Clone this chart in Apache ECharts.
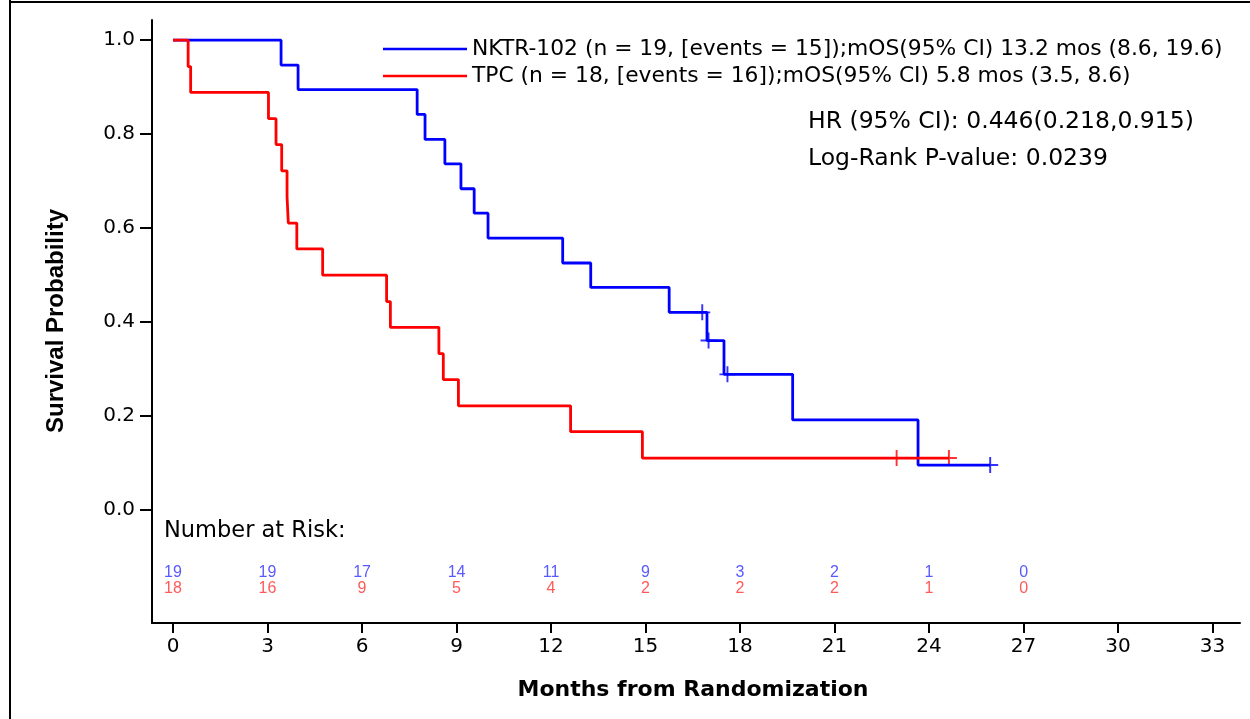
<!DOCTYPE html>
<html><head><meta charset="utf-8">
<script src="https://cdn.jsdelivr.net/npm/echarts@6/dist/echarts.min.js"></script>
<style>html,body{margin:0;padding:0;background:#fff}#c{width:1250px;height:719px}</style>
</head><body><div id="c"></div>
<script>
// ---- data ----
const blueName = 'NKTR-102 (n = 19, [events = 15]);mOS(95% CI) 13.2 mos (8.6, 19.6)';
const redName = 'TPC (n = 18, [events = 16]);mOS(95% CI) 5.8 mos (3.5, 8.6)';
const blueTimes = [0, 3.43, 3.97, 7.75, 8.0, 8.63, 9.14, 9.56, 10.0, 12.37, 13.26, 15.75, 16.95, 17.49, 19.67, 23.65, 25.94];
const blueSurv  = [1.0, 0.947, 0.895, 0.842, 0.789, 0.737, 0.684, 0.632, 0.579, 0.526, 0.474, 0.421, 0.361, 0.289, 0.192, 0.096, 0.096];
const blueCensorTimes = [16.8, 17.0, 17.6, 25.94];
const blueCensorSurv  = [0.421, 0.361, 0.289, 0.096];
const redTimes = [0, 0.48, 0.56, 3.03, 3.27, 3.45, 3.62, 3.66, 3.93, 4.75, 6.78, 6.90, 8.44, 8.58, 9.06, 12.62, 14.90, 24.63];
const redSurv  = [1.0, 0.944, 0.889, 0.833, 0.778, 0.722, 0.667, 0.611, 0.556, 0.500, 0.444, 0.389, 0.333, 0.278, 0.222, 0.167, 0.111, 0.111];
const redCensorTimes = [22.97, 24.63];
const redCensorSurv  = [0.111, 0.111];
const riskTimes = [0, 3, 6, 9, 12, 15, 18, 21, 24, 27];
const riskBlue  = [19, 19, 17, 14, 11, 9, 3, 2, 1, 0];
const riskRed   = [18, 16, 9, 5, 4, 2, 2, 2, 1, 0];
const xTicks = [0, 3, 6, 9, 12, 15, 18, 21, 24, 27, 30, 33];
const yTicks = [0, 0.2, 0.4, 0.6, 0.8, 1.0];
const statLines = ['HR (95% CI): 0.446(0.218,0.915)', 'Log-Rank P-value: 0.0239'];
const riskTitle = 'Number at Risk:';
const xTitle = 'Months from Randomization';
const yTitle = 'Survival Probability';

// ---- styling ----
const BLUE = '#0000ff', RED = '#ff0000';
const FONT = "'DejaVu Sans', sans-serif";
const XMIN = -0.667, XMAX = 33.87;
const plus = 'path://M-0.12,-1L0.12,-1L0.12,1L-0.12,1ZM-1,-0.12L1,-0.12L1,0.12L-1,0.12Z';

const chart = echarts.init(document.getElementById('c'), null, {renderer: 'canvas'});
const zip = (a, b) => a.map((v, i) => [v, b[i]]);

function riskSeries(row, counts, color) {
  return {
    type: 'scatter', xAxisIndex: 1, yAxisIndex: 1, silent: true,
    symbolSize: 1, itemStyle: {color: 'transparent'},
    data: riskTimes.map((t, i) => [t, row, counts[i]]),
    label: {show: true, position: 'inside', formatter: p => String(p.value[2]),
            color: color, fontSize: 16, fontFamily: "'Liberation Sans', Arial, sans-serif"},
    emphasis: {disabled: true}
  };
}

const option = {
  animation: false,
  backgroundColor: '#fff',
  grid: [
    {left: 152, right: 10, top: 20, bottom: 96},
    {left: 152, right: 10, top: 565, height: 32}
  ],
  xAxis: [
    {type: 'value', gridIndex: 0, min: XMIN, max: XMAX,
     axisLine: {show: true, onZero: false, lineStyle: {color: '#000', width: 2}},
     axisTick: {show: true, customValues: xTicks, length: 10, lineStyle: {color: '#000', width: 2}},
     axisLabel: {customValues: xTicks, margin: 14, color: '#000', fontSize: 20, fontFamily: FONT},
     splitLine: {show: false}},
    {type: 'value', gridIndex: 1, min: XMIN, max: XMAX, show: false}
  ],
  yAxis: [
    {type: 'value', gridIndex: 0, min: -0.24, max: 1.043,
     axisLine: {show: true, onZero: false, lineStyle: {color: '#000', width: 2}},
     axisTick: {show: true, customValues: yTicks, length: 12, lineStyle: {color: '#000', width: 2}},
     axisLabel: {customValues: yTicks, formatter: v => v.toFixed(1), margin: 17, color: '#000', fontSize: 20, fontFamily: FONT},
     splitLine: {show: false}},
    {type: 'category', gridIndex: 1, data: ['NKTR-102', 'TPC'], inverse: true, show: false}
  ],
  legend: {
    orient: 'vertical', left: 378, top: 32, itemWidth: 84, itemHeight: 2.5, itemGap: 3,
    icon: 'rect',
    data: [blueName, redName], selectedMode: false,
    textStyle: {color: '#000', fontSize: 21.8, lineHeight: 24, fontFamily: FONT}
  },
  series: [
    {name: blueName, type: 'line', step: 'end', symbol: 'none', silent: true,
     data: zip(blueTimes, blueSurv), lineStyle: {color: BLUE, width: 2.8}, itemStyle: {color: BLUE}},
    {name: redName, type: 'line', step: 'end', symbol: 'none', silent: true,
     data: zip(redTimes, redSurv), lineStyle: {color: RED, width: 2.8}, itemStyle: {color: RED}},
    {name: 'blueCensor', type: 'scatter', symbol: plus, symbolSize: 16, silent: true,
     data: zip(blueCensorTimes, blueCensorSurv), itemStyle: {color: BLUE}},
    {name: 'redCensor', type: 'scatter', symbol: plus, symbolSize: 16, silent: true,
     data: zip(redCensorTimes, redCensorSurv), itemStyle: {color: RED}},
    riskSeries(0, riskBlue, '#3030ff'),
    riskSeries(1, riskRed, '#ff3030')
  ],
  graphic: [
    {type: 'line', shape: {x1: 10, y1: 0, x2: 10, y2: 719}, style: {stroke: '#000', lineWidth: 2}},
    {type: 'line', shape: {x1: 10, y1: 2, x2: 1250, y2: 2}, style: {stroke: '#000', lineWidth: 2}},
    {type: 'text', x: 56, y: 321, rotation: Math.PI / 2,
     style: {text: yTitle, fill: '#000', font: "bold 24px 'Liberation Sans', Arial, sans-serif", textAlign: 'center', textVerticalAlign: 'middle'}},
    {type: 'text', x: 693, y: 690,
     style: {text: xTitle, fill: '#000', font: "bold 22px 'DejaVu Sans', sans-serif", textAlign: 'center', textVerticalAlign: 'middle'}},
    {type: 'text', x: 164, y: 531,
     style: {text: riskTitle, fill: '#000', font: "22.5px 'DejaVu Sans', sans-serif", textAlign: 'left', textVerticalAlign: 'middle'}},
    {type: 'text', x: 808, y: 122,
     style: {text: statLines[0], fill: '#000', font: "23.5px 'DejaVu Sans', sans-serif", textAlign: 'left', textVerticalAlign: 'middle'}},
    {type: 'text', x: 808, y: 159,
     style: {text: statLines[1], fill: '#000', font: "23.5px 'DejaVu Sans', sans-serif", textAlign: 'left', textVerticalAlign: 'middle'}}
  ]
};
chart.setOption(option);
</script>
</body></html>
